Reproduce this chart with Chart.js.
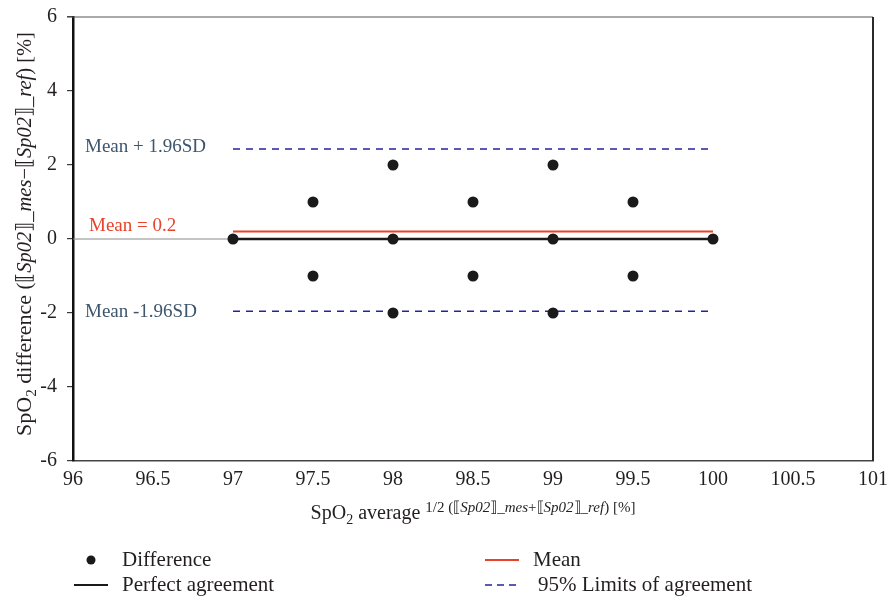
<!DOCTYPE html>
<html>
<head>
<meta charset="utf-8">
<script src="https://cdn.jsdelivr.net/npm/chart.js@4.4.1/dist/chart.umd.min.js"></script>
<style>
  html, body { margin: 0; padding: 0; background: #ffffff; }
  #wrap { width: 892px; height: 601px; }
</style>
</head>
<body>
<div id="wrap"><canvas id="c" width="892" height="601"></canvas></div>
<script>
// Bland–Altman data: average of the two SpO2 readings vs their difference
const avgValues  = [97, 97.5, 97.5, 98, 98, 98, 98.5, 98.5, 99, 99, 99, 99.5, 99.5, 100];
const diffValues = [0, 1, -1, 2, 0, -2, 1, -1, 2, 0, -2, 1, -1, 0];

// Summary statistics
const meanDiff   = 0.2;
const upperLimit = 2.43;   // mean + 1.96 SD
const lowerLimit = -1.95;  // mean - 1.96 SD
const lineSpan   = [97, 100];
const leadSpan   = [96, 97];

// Axis ranges
const xMin = 96, xMax = 101, xStep = 0.5;
const yMin = -6, yMax = 6, yStep = 2;

const SERIF = '"Liberation Serif", "DejaVu Serif", serif';
const INK = '#231f20';
const RED = '#e8432a';
const BLUE = '#24249c';
const SLATE = '#3d566c';

const hLine = (y, x0, x1) => [{ x: x0, y: y }, { x: x1, y: y }];

function font(size, italic) {
  return (italic ? 'italic ' : '') + size + 'px ' + SERIF;
}

// Draws a sequence of styled text runs centred on (cx, cy) in the current frame.
function drawRuns(ctx, runs, cx, cy) {
  let total = 0;
  runs.forEach(r => { ctx.font = font(r.size, r.italic); r.w = ctx.measureText(r.t).width; total += r.w; });
  let x = cx - total / 2;
  ctx.textBaseline = 'alphabetic';
  ctx.textAlign = 'left';
  runs.forEach(r => {
    ctx.font = font(r.size, r.italic);
    ctx.fillStyle = r.color || INK;
    ctx.fillText(r.t, x, cy + (r.dy || 0));
    x += r.w;
  });
}

const decorations = {
  id: 'decorations',
  afterDraw(chart) {
    const ctx = chart.ctx;
    const a = chart.chartArea;
    const ys = chart.scales.y;
    ctx.save();

    // top and right frame lines
    ctx.strokeStyle = '#555555';
    ctx.lineWidth = 1;
    ctx.beginPath();
    ctx.moveTo(a.left - 6, a.top);
    ctx.lineTo(a.right, a.top);
    ctx.stroke();
    ctx.strokeStyle = '#2a2a2a';
    ctx.lineWidth = 2;
    ctx.beginPath();
    ctx.moveTo(a.right, a.top);
    ctx.lineTo(a.right, a.bottom);
    ctx.stroke();

    // line labels
    ctx.textBaseline = 'middle';
    ctx.textAlign = 'left';
    ctx.font = font(19);
    ctx.fillStyle = SLATE;
    ctx.fillText('Mean + 1.96SD', 85, ys.getPixelForValue(upperLimit) - 2);
    ctx.fillText('Mean -1.96SD', 85, ys.getPixelForValue(lowerLimit) + 1);
    ctx.fillStyle = RED;
    ctx.fillText('Mean = 0.2', 89, ys.getPixelForValue(meanDiff) - 6);

    // x axis title with superscript expression
    const cx = (a.left + a.right) / 2;
    drawRuns(ctx, [
      { t: 'SpO', size: 20 },
      { t: '2', size: 14, dy: 5 },
      { t: ' average ', size: 20 },
      { t: '1/2 (\u27E6', size: 15, dy: -7 },
      { t: 'Sp02', size: 15, italic: true, dy: -7 },
      { t: '\u27E7_', size: 15, dy: -7 },
      { t: 'mes', size: 15, italic: true, dy: -7 },
      { t: '+\u27E6', size: 15, dy: -7 },
      { t: 'Sp02', size: 15, italic: true, dy: -7 },
      { t: '\u27E7_', size: 15, dy: -7 },
      { t: 'ref', size: 15, italic: true, dy: -7 },
      { t: ') [%]', size: 15, dy: -7 }
    ], cx, 519);

    // y axis title, rotated
    ctx.save();
    ctx.translate(31, (a.top + a.bottom) / 2 - 5);
    ctx.rotate(-Math.PI / 2);
    drawRuns(ctx, [
      { t: 'SpO', size: 22 },
      { t: '2', size: 15, dy: 5 },
      { t: ' difference ', size: 22 },
      { t: '(\u27E6', size: 20.5 },
      { t: 'Sp02', size: 20.5, italic: true },
      { t: '\u27E7_', size: 20.5 },
      { t: 'mes', size: 20.5, italic: true },
      { t: '\u2212\u27E6', size: 20.5 },
      { t: 'Sp02', size: 20.5, italic: true },
      { t: '\u27E7_', size: 20.5 },
      { t: 'ref', size: 20.5, italic: true },
      { t: ') [%]', size: 20.5 }
    ], 0, 0);
    ctx.restore();

    // legend
    const row1 = 560, row2 = 585;
    ctx.fillStyle = '#1a1a1a';
    ctx.beginPath();
    ctx.arc(91, row1, 4.5, 0, Math.PI * 2);
    ctx.fill();

    ctx.strokeStyle = '#1a1a1a';
    ctx.lineWidth = 2;
    ctx.setLineDash([]);
    ctx.beginPath(); ctx.moveTo(74, row2); ctx.lineTo(108, row2); ctx.stroke();

    ctx.strokeStyle = RED;
    ctx.beginPath(); ctx.moveTo(485, row1); ctx.lineTo(519, row1); ctx.stroke();

    ctx.strokeStyle = BLUE;
    ctx.lineWidth = 1.5;
    ctx.setLineDash([7, 5]);
    ctx.beginPath(); ctx.moveTo(485, row2); ctx.lineTo(521, row2); ctx.stroke();
    ctx.setLineDash([]);

    ctx.font = font(21);
    ctx.fillStyle = INK;
    ctx.textBaseline = 'middle';
    ctx.fillText('Difference', 122, row1);
    ctx.fillText('Perfect agreement', 122, row2);
    ctx.fillText('Mean', 533, row1);
    ctx.fillText('95% Limits of agreement', 538, row2);

    ctx.restore();
  }
};

const points = avgValues.map((x, i) => ({ x: x, y: diffValues[i] }));

new Chart(document.getElementById('c'), {
  type: 'scatter',
  data: {
    datasets: [
      {
        label: 'Difference',
        data: points,
        pointRadius: 5.5,
        pointHoverRadius: 5.5,
        pointBackgroundColor: '#1a1a1a',
        pointBorderColor: '#1a1a1a',
        pointBorderWidth: 0,
        showLine: false
      },
      {
        label: 'Mean',
        data: hLine(meanDiff, lineSpan[0], lineSpan[1]),
        showLine: true,
        borderColor: RED,
        borderWidth: 2,
        pointRadius: 0
      },
      {
        label: 'Perfect agreement',
        data: hLine(0, lineSpan[0], lineSpan[1]),
        showLine: true,
        borderColor: '#1a1a1a',
        borderWidth: 2.5,
        pointRadius: 0
      },
      {
        label: 'Zero reference',
        data: hLine(0, leadSpan[0], leadSpan[1]),
        showLine: true,
        borderColor: '#8a8a8a',
        borderWidth: 1,
        pointRadius: 0
      },
      {
        label: 'Upper limit of agreement',
        data: hLine(upperLimit, lineSpan[0], lineSpan[1]),
        showLine: true,
        borderColor: BLUE,
        borderWidth: 1.5,
        borderDash: [7, 6],
        pointRadius: 0
      },
      {
        label: 'Lower limit of agreement',
        data: hLine(lowerLimit, lineSpan[0], lineSpan[1]),
        showLine: true,
        borderColor: BLUE,
        borderWidth: 1.5,
        borderDash: [7, 6],
        pointRadius: 0
      }
    ]
  },
  options: {
    responsive: false,
    animation: false,
    events: [],
    layout: { padding: { left: 0, right: 19, top: 17, bottom: 0 } },
    plugins: { legend: { display: false }, tooltip: { enabled: false } },
    scales: {
      x: {
        type: 'linear',
        min: xMin, max: xMax,
        afterFit(s) { s.height = 140; s.paddingLeft = 0; s.paddingRight = 0; },
        ticks: {
          stepSize: xStep,
          color: INK,
          padding: -1,
          maxRotation: 0,
          autoSkip: false,
          font: { family: SERIF, size: 20 },
          callback: v => String(v)
        },
        grid: { display: false },
        border: { display: true, color: '#444444', width: 1.5 }
      },
      y: {
        type: 'linear',
        min: yMin, max: yMax,
        afterFit(s) { s.width = 73; s.paddingTop = 0; s.paddingBottom = 0; },
        ticks: {
          stepSize: yStep,
          color: INK,
          padding: 10,
          font: { family: SERIF, size: 20 },
          callback: v => String(v)
        },
        grid: { display: true, drawOnChartArea: false, drawTicks: true, tickLength: 6, color: '#3a3a3a', lineWidth: 1.2 },
        border: { display: true, color: '#111111', width: 2.5 }
      }
    }
  },
  plugins: [decorations]
});
</script>
</body>
</html>
